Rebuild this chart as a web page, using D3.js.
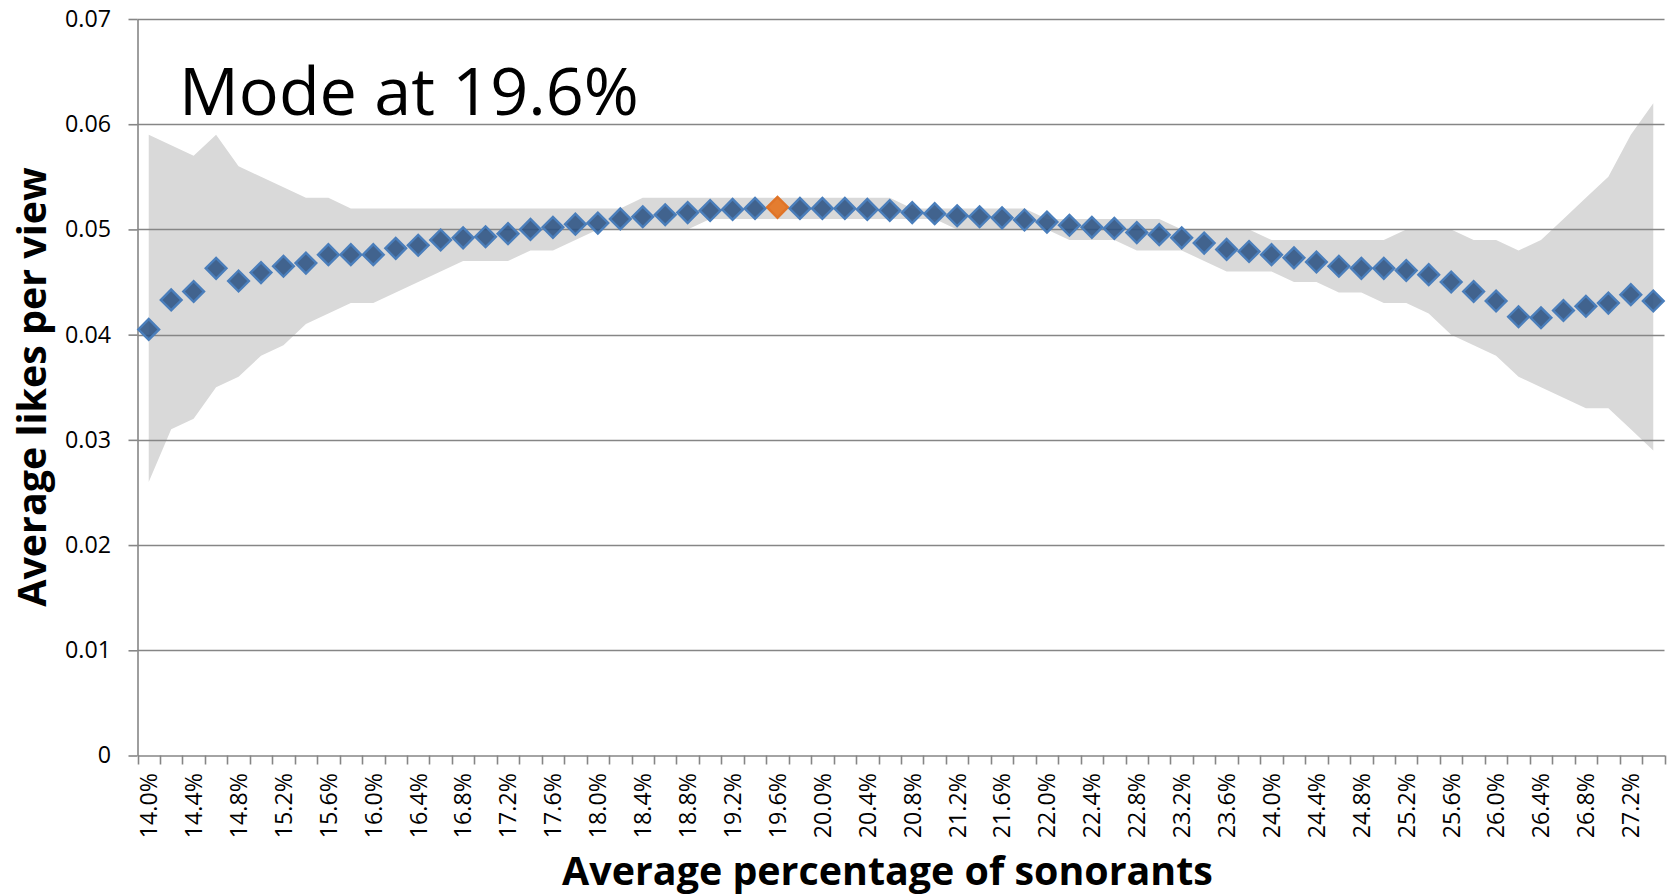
<!DOCTYPE html>
<html><head><meta charset="utf-8">
<script src="https://cdn.jsdelivr.net/npm/d3@7"></script>
<style>body{margin:0;background:#fff}svg{display:block}</style>
</head><body>
<svg id="chart" width="1673" height="896"></svg>
<script>
const categories = ["14.0%","14.2%","14.4%","14.6%","14.8%","15.0%","15.2%","15.4%","15.6%","15.8%",
"16.0%","16.2%","16.4%","16.6%","16.8%","17.0%","17.2%","17.4%","17.6%","17.8%",
"18.0%","18.2%","18.4%","18.6%","18.8%","19.0%","19.2%","19.4%","19.6%","19.8%",
"20.0%","20.2%","20.4%","20.6%","20.8%","21.0%","21.2%","21.4%","21.6%","21.8%",
"22.0%","22.2%","22.4%","22.6%","22.8%","23.0%","23.2%","23.4%","23.6%","23.8%",
"24.0%","24.2%","24.4%","24.6%","24.8%","25.0%","25.2%","25.4%","25.6%","25.8%",
"26.0%","26.2%","26.4%","26.6%","26.8%","27.0%","27.2%","27.4%"];
const likesPerView = [0.0405,0.0433,0.0441,0.0463,0.0451,0.0459,0.0465,0.0468,0.0476,0.0476,
0.0476,0.0482,0.0485,0.0490,0.0492,0.0493,0.0496,0.0500,0.0502,0.0505,
0.0506,0.0510,0.0512,0.0514,0.0516,0.0518,0.0519,0.0520,0.0521,0.0520,
0.0520,0.0520,0.0519,0.0518,0.0516,0.0515,0.0513,0.0512,0.0511,0.0509,
0.0507,0.0504,0.0502,0.0501,0.0497,0.0495,0.0492,0.0487,0.0481,0.0479,
0.0476,0.0473,0.0469,0.0465,0.0463,0.0463,0.0461,0.0457,0.0450,0.0441,
0.0432,0.0417,0.0416,0.0423,0.0427,0.0430,0.0438,0.0432];
const bandUpper = [0.059,0.058,0.057,0.059,0.056,0.055,0.054,0.053,0.053,0.052,
0.052,0.052,0.052,0.052,0.052,0.052,0.052,0.052,0.052,0.052,
0.052,0.052,0.053,0.053,0.053,0.053,0.053,0.053,0.053,0.053,
0.053,0.053,0.053,0.053,0.052,0.052,0.052,0.052,0.052,0.052,
0.051,0.051,0.051,0.051,0.051,0.051,0.050,0.050,0.050,0.050,
0.049,0.049,0.049,0.049,0.049,0.049,0.050,0.050,0.050,0.049,
0.049,0.048,0.049,0.051,0.053,0.055,0.059,0.062];
const bandLower = [0.026,0.031,0.032,0.035,0.036,0.038,0.039,0.041,0.042,0.043,
0.043,0.044,0.045,0.046,0.047,0.047,0.047,0.048,0.048,0.049,
0.050,0.050,0.050,0.050,0.050,0.051,0.051,0.051,0.051,0.051,
0.051,0.051,0.051,0.051,0.051,0.051,0.050,0.050,0.050,0.050,
0.050,0.049,0.049,0.049,0.048,0.048,0.048,0.047,0.046,0.046,
0.046,0.045,0.045,0.044,0.044,0.043,0.043,0.042,0.040,0.039,
0.038,0.036,0.035,0.034,0.033,0.033,0.031,0.029];
const modeCategory = "19.6%";
const yTicks = [0,0.01,0.02,0.03,0.04,0.05,0.06,0.07];
const yTickLabels = ["0","0.01","0.02","0.03","0.04","0.05","0.06","0.07"];
const xTickLabels = ["14.0%","14.4%","14.8%","15.2%","15.6%","16.0%","16.4%","16.8%","17.2%","17.6%",
"18.0%","18.4%","18.8%","19.2%","19.6%","20.0%","20.4%","20.8%","21.2%","21.6%",
"22.0%","22.4%","22.8%","23.2%","23.6%","24.0%","24.4%","24.8%","25.2%","25.6%",
"26.0%","26.4%","26.8%","27.2%"];
const annotation = "Mode at 19.6%";
const xTitle = "Average percentage of sonorants";
const yTitle = "Average likes per view";

const FONT = "'Open Sans','DejaVu Sans',sans-serif";
const GRID = "#868686";
const L = 137.5, R = 1664.5, T = 19, B = 755.5;

const svg = d3.select("#chart");
const x = d3.scaleBand().domain(categories).range([L, R]).padding(0);
const y = d3.scaleLinear().domain([0, 0.07]).range([B, T]);
const bw = x.bandwidth();
const cx = c => x(c) + bw / 2;

function fit(sel, target) {
  const base = parseFloat(sel.attr("font-size"));
  const w = sel.node().getComputedTextLength();
  sel.attr("font-size", base * target / w);
  return base * target / w;
}

// band
const bandData = categories.map((c, i) => ({c, lo: bandLower[i], hi: bandUpper[i]}));
svg.append("path").datum(bandData)
  .attr("fill", "#d9d9d9")
  .attr("d", d3.area().x(d => cx(d.c)).y0(d => y(d.lo)).y1(d => y(d.hi)));

// gridlines
svg.append("g").selectAll("line").data(yTicks.filter(v => v > 0)).join("line")
  .attr("x1", L).attr("x2", R)
  .attr("y1", d => Math.round(y(d)) + 0.5).attr("y2", d => Math.round(y(d)) + 0.5)
  .attr("stroke", GRID).attr("stroke-width", 1.6);

// measure tick font size
const probe = svg.append("text").attr("font-family", FONT).attr("font-size", 26).text("0.07");
const tickFs = fit(probe, 46);
probe.remove();

// y axis
const yAxis = d3.axisLeft(y).tickValues(yTicks).tickSize(9).tickSizeOuter(0).tickPadding(17.5)
  .tickFormat((d, i) => yTickLabels[i]);
const gy = svg.append("g").attr("transform", `translate(${L},0)`).call(yAxis);
gy.selectAll("path,line").attr("stroke", GRID).attr("stroke-width", 1.6);
gy.selectAll("text").attr("font-family", FONT).attr("font-size", tickFs).attr("fill", "#000");

// x axis labels
const xAxis = d3.axisBottom(x).tickValues(xTickLabels).tickSize(0).tickSizeOuter(0);
const gx = svg.append("g").attr("transform", `translate(0,${B})`).call(xAxis);
gx.select(".domain").attr("stroke", GRID).attr("stroke-width", 1.6);
gx.selectAll("text").attr("font-family", FONT).attr("font-size", tickFs).attr("fill", "#000")
  .attr("transform", "rotate(-90)").attr("text-anchor", "end")
  .attr("x", -17.5).attr("y", 0).attr("dy", "0.36em");
// x boundary ticks
const bounds = categories.map(c => x(c)).concat([x.range()[1]]);
svg.append("g").selectAll("line").data(bounds).join("line")
  .attr("x1", d => Math.round(d) + 0.5).attr("x2", d => Math.round(d) + 0.5)
  .attr("y1", B).attr("y2", B + 9)
  .attr("stroke", GRID).attr("stroke-width", 1.6);

// points
const pts = categories.map((c, i) => ({c, v: likesPerView[i]}));
svg.append("g").selectAll("path").data(pts).join("path")
  .attr("d", d3.symbol(d3.symbolSquare, 215))
  .attr("transform", d => `translate(${cx(d.c)},${y(d.v)}) rotate(45)`)
  .attr("fill", d => d.c === modeCategory ? "#e47d30" : "#2b5283")
  .attr("fill-opacity", d => d.c === modeCategory ? 1 : 0.88)
  .attr("stroke", d => d.c === modeCategory ? "#e07428" : "#4a7ebb")
  .attr("stroke-width", 2.4);

// annotation
const ann = svg.append("text").attr("x", 179).attr("y", 115)
  .attr("font-family", FONT).attr("font-size", 70).attr("fill", "#000").text(annotation);
fit(ann, 460);

// titles
const xt = svg.append("text").attr("x", 887.5).attr("y", 885).attr("text-anchor", "middle")
  .attr("font-family", FONT).attr("font-weight", "bold").attr("font-size", 36).attr("fill", "#000").text(xTitle);
const titleFs = fit(xt, 651);
svg.append("text").attr("transform", "translate(45.5,387) rotate(-90)").attr("text-anchor", "middle")
  .attr("font-family", FONT).attr("font-weight", "bold").attr("font-size", titleFs).attr("fill", "#000").text(yTitle);
</script>
</body></html>
